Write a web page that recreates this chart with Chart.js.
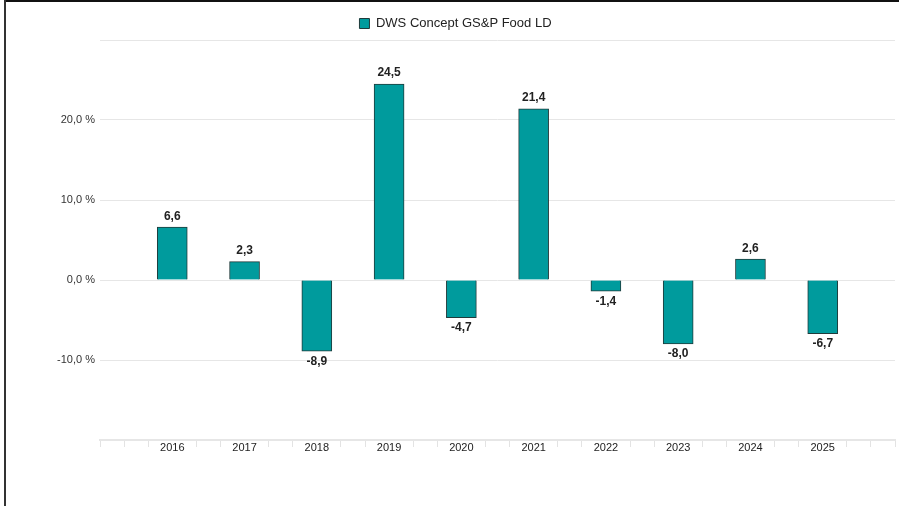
<!DOCTYPE html>
<html>
<head>
<meta charset="utf-8">
<script src="https://cdn.jsdelivr.net/npm/chart.js@4.4.1/dist/chart.umd.min.js"></script>
<style>
    html, body { margin: 0; padding: 0; background: #fff; }
    #wrap { position: relative; width: 899px; height: 506px; overflow: hidden; }
    #wrap canvas { position: absolute; left: 0; top: 0; }
    #frameTop { position: absolute; left: 4px; top: 0; right: 0; height: 2px; background: #111; }
    #frameLeft { position: absolute; left: 4px; top: 0; bottom: 0; width: 2px; background: #333; }
</style>
</head>
<body>
<div id="wrap">
    <canvas id="myChart" width="899" height="506"></canvas>
    <div id="frameTop"></div>
    <div id="frameLeft"></div>
</div>
<script>
// years on the axis, blank slot at both ends
const years = ['', '2016', '2017', '2018', '2019', '2020', '2021', '2022', '2023', '2024', '2025', ''];
const fundName = 'DWS Concept GS&P Food LD';
const returns = [null, 6.6, 2.3, -8.9, 24.5, -4.7, 21.4, -1.4, -8.0, 2.6, -6.7, null];
const yTickLabels = [-10, 0, 10, 20];

function fmt(v) {
    return v.toFixed(1).replace('.', ',');
}

Chart.defaults.font.family = '"Liberation Sans", Arial, sans-serif';
Chart.defaults.color = '#333';

// draws the value above / below each bar
const valueLabels = {
    id: 'valueLabels',
    afterDatasetsDraw(chart) {
        const ctx = chart.ctx;
        const meta = chart.getDatasetMeta(0);
        ctx.save();
        ctx.font = 'bold 12px "Liberation Sans", Arial, sans-serif';
        ctx.fillStyle = '#222';
        ctx.textAlign = 'center';
        ctx.textBaseline = 'middle';
        meta.data.forEach((bar, i) => {
            const v = returns[i];
            if (v === null) return;
            const y = v >= 0 ? bar.y - 11 : bar.y + 10;
            ctx.fillText(fmt(v), bar.x, y);
        });
        ctx.restore();
    }
};

document.addEventListener('DOMContentLoaded', function () {
    const ctx = document.getElementById('myChart').getContext('2d');
    const lastMinor = (years.length - 1) * 3;
    new Chart(ctx, {
        type: 'bar',
        data: {
            labels: years,
            datasets: [{
                label: fundName,
                data: returns,
                xAxisID: 'x',
                yAxisID: 'y',
                backgroundColor: '#009b9d',
                borderColor: '#1f3b3b',
                borderWidth: 1,
                barThickness: 30
            }]
        },
        options: {
            responsive: false,
            animation: false,
            layout: {
                padding: { left: 16, right: 4, top: 7, bottom: 0 }
            },
            plugins: {
                legend: {
                    position: 'top',
                    labels: {
                        boxWidth: 10,
                        boxHeight: 10,
                        color: '#222',
                        font: { size: 13 }
                    }
                },
                tooltip: { enabled: false }
            },
            scales: {
                x: {
                    weight: 1,
                    offset: false,
                    border: { display: false },
                    grid: { display: false, drawTicks: false },
                    ticks: {
                        padding: 1,
                        color: '#222',
                        font: { size: 11 },
                        autoSkip: false,
                        maxRotation: 0
                    },
                    afterFit: function (scale) { scale.height = 66; }
                },
                // minor tick marks along the bottom axis line
                x2: {
                    type: 'linear',
                    position: 'bottom',
                    weight: 0,
                    min: 0,
                    max: lastMinor,
                    offset: false,
                    border: { display: true, color: '#e6e6e6', width: 2 },
                    grid: {
                        offset: false,
                        drawOnChartArea: false,
                        drawTicks: true,
                        tickLength: 7,
                        lineWidth: 1,
                        color: function (c) {
                            if (!c.tick) return '#e3e3e3';
                            const v = Math.round(c.tick.value);
                            if (v % 3 === 0 && v > 0 && v < lastMinor) return 'rgba(0,0,0,0)';
                            return '#e3e3e3';
                        }
                    },
                    ticks: { display: false, stepSize: 1, maxTicksLimit: 60, autoSkip: false },
                    afterFit: function (scale) { scale.height = 0; }
                },
                y: {
                    min: -20,
                    max: 30,
                    border: { display: false },
                    grid: { color: '#e6e6e6', drawTicks: false },
                    ticks: {
                        stepSize: 10,
                        padding: 5,
                        color: '#333',
                        font: { size: 11 },
                        callback: function (value) {
                            return yTickLabels.includes(value) ? fmt(value) + ' %' : '';
                        }
                    },
                    afterFit: function (scale) { scale.width = 84; }
                }
            }
        },
        plugins: [valueLabels]
    });
});
</script>
</body>
</html>
